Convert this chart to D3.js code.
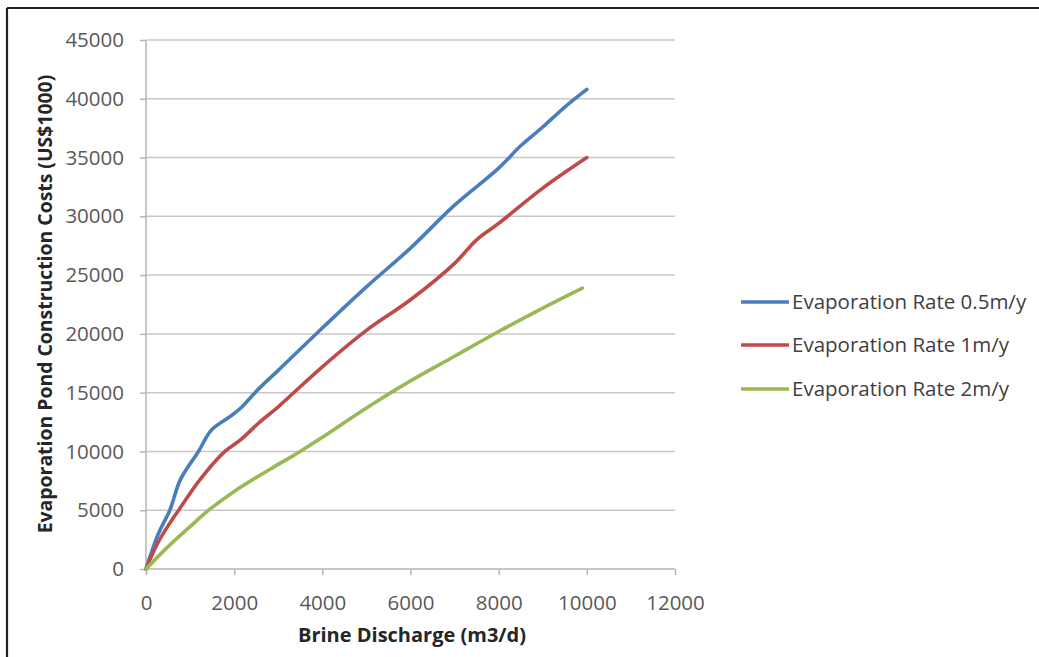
<!DOCTYPE html>
<html>
<head>
<meta charset="utf-8">
<script src="https://cdn.jsdelivr.net/npm/d3@7"></script>
<style>
  html, body { margin: 0; padding: 0; background: #fff; }
  svg { display: block; }
</style>
</head>
<body>
<svg id="chart" width="1039" height="657"></svg>
<script>
// Brine discharge (m3/d) vs. evaporation pond construction cost (US$1000)
const blueX  = [0, 280, 540, 780, 1190, 1480, 1900, 2150, 2550, 3000, 4000, 5000, 6000, 7000, 8000, 8500, 9000, 9500, 10000];
const blueY  = [0, 3000, 5000, 7600, 10000, 11800, 12950, 13700, 15300, 16900, 20500, 24000, 27300, 30950, 34100, 36000, 37600, 39300, 40800];
const redX   = [0, 250, 540, 740, 1225, 1790, 2150, 2550, 3000, 4000, 5000, 6000, 7000, 7500, 8000, 9000, 10000];
const redY   = [0, 2100, 3900, 5000, 7600, 10000, 11000, 12400, 13800, 17200, 20300, 22900, 26000, 28000, 29400, 32400, 35000];
const greenX = [0, 500, 1000, 1420, 2000, 3000, 3500, 4000, 5000, 6000, 7000, 8000, 9000, 9900];
const greenY = [0, 1900, 3600, 5000, 6600, 8900, 10000, 11200, 13700, 16000, 18100, 20200, 22200, 23900];

const seriesNames = ["Evaporation Rate 0.5m/y", "Evaporation Rate 1m/y", "Evaporation Rate 2m/y"];
const seriesColors = ["#4a7ebb", "#be4b48", "#98b954"];
const xTicks = [0, 2000, 4000, 6000, 8000, 10000, 12000];
const yTicks = [0, 5000, 10000, 15000, 20000, 25000, 30000, 35000, 40000, 45000];
const xTitle = "Brine Discharge (m3/d)";
const yTitle = "Evaporation Pond Construction Costs (US$1000)";

const series = [
  blueX.map((x, i) => [x, blueY[i]]),
  redX.map((x, i) => [x, redY[i]]),
  greenX.map((x, i) => [x, greenY[i]])
];

const svg = d3.select("#chart");
const font = "'Open Sans', 'Liberation Sans', sans-serif";

// frame lines along the top and left edges
svg.append("line").attr("x1", 7).attr("x2", 1039).attr("y1", 8).attr("y2", 8)
  .attr("stroke", "#222").attr("stroke-width", 2.2);
svg.append("line").attr("x1", 7).attr("x2", 7).attr("y1", 8).attr("y2", 657)
  .attr("stroke", "#222").attr("stroke-width", 2.2);

const plot = { left: 146, right: 675, top: 40, bottom: 569 };
const x = d3.scaleLinear().domain([0, 12000]).range([plot.left, plot.right]);
const y = d3.scaleLinear().domain([0, 45000]).range([plot.bottom, plot.top]);

// horizontal gridlines
svg.append("g")
  .selectAll("line").data(yTicks.filter(d => d > 0)).join("line")
  .attr("x1", plot.left).attr("x2", plot.right)
  .attr("y1", d => y(d)).attr("y2", d => y(d))
  .attr("stroke", "#c8c8c8").attr("stroke-width", 1.5);

// y axis
const yAxis = svg.append("g")
  .attr("transform", `translate(${plot.left},0)`)
  .call(d3.axisLeft(y).tickValues(yTicks).tickSize(6).tickPadding(16).tickFormat(d3.format("d")));
yAxis.select(".domain").attr("stroke", "#b5b5b5").attr("stroke-width", 1.5)
  .attr("d", `M0,${plot.top}V${plot.bottom}`);
yAxis.selectAll(".tick line").attr("stroke", "#b5b5b5").attr("stroke-width", 1.5);
yAxis.selectAll(".tick text").attr("fill", "#595959").style("font-family", font).style("font-size", "20.5px");

// x axis
const xAxis = svg.append("g")
  .attr("transform", `translate(0,${plot.bottom})`)
  .call(d3.axisBottom(x).tickValues(xTicks).tickSize(6).tickPadding(20).tickFormat(d3.format("d")));
xAxis.select(".domain").attr("stroke", "#b5b5b5").attr("stroke-width", 1.5)
  .attr("d", `M${plot.left},0H${plot.right}`);
xAxis.selectAll(".tick line").attr("stroke", "#b5b5b5").attr("stroke-width", 1.5);
xAxis.selectAll(".tick text").attr("fill", "#595959").style("font-family", font).style("font-size", "20.5px");

// series lines
const line = d3.line().x(d => x(d[0])).y(d => y(d[1])).curve(d3.curveCatmullRom.alpha(0.5));
svg.append("g").selectAll("path").data(series).join("path")
  .attr("d", line)
  .attr("fill", "none")
  .attr("stroke", (d, i) => seriesColors[i])
  .attr("stroke-width", 3.6)
  .attr("stroke-linecap", "round")
  .attr("stroke-linejoin", "round");

// axis titles
svg.append("text")
  .attr("x", 412).attr("y", 642)
  .attr("text-anchor", "middle")
  .attr("fill", "#262626")
  .style("font-family", font).style("font-size", "20px").style("font-weight", "bold")
  .text(xTitle);

svg.append("text")
  .attr("transform", "translate(52,304) rotate(-90)")
  .attr("text-anchor", "middle")
  .attr("fill", "#262626")
  .style("font-family", font).style("font-size", "19.4px").style("font-weight", "bold")
  .text(yTitle);

// legend
const legend = svg.append("g");
const legendY = [302, 345, 389];
seriesNames.forEach((name, i) => {
  legend.append("line")
    .attr("x1", 741).attr("x2", 789)
    .attr("y1", legendY[i]).attr("y2", legendY[i])
    .attr("stroke", seriesColors[i]).attr("stroke-width", 3.6);
  legend.append("text")
    .attr("x", 792).attr("y", legendY[i]).attr("dy", "0.35em")
    .attr("fill", "#404040")
    .style("font-family", font).style("font-size", "20.5px")
    .text(name);
});
</script>
</body>
</html>
